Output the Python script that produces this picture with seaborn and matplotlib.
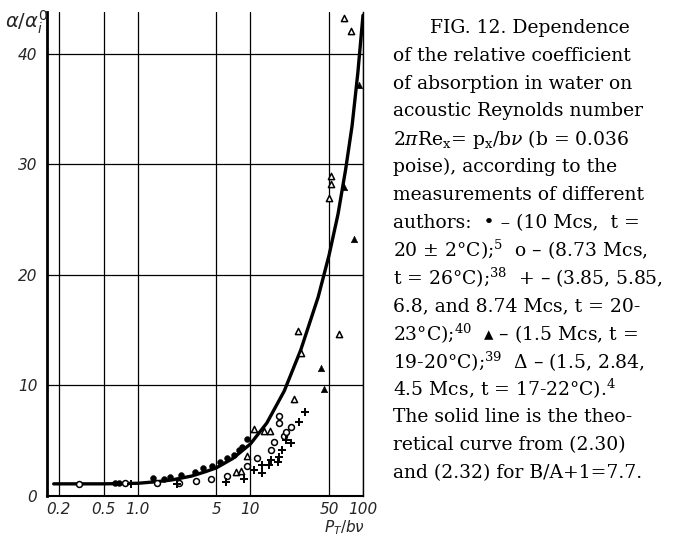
import numpy as np
import pandas as pd
import matplotlib
matplotlib.use("Agg")
import matplotlib.pyplot as plt
import seaborn as sns

# theoretical curve
curve_x = [0.18, 0.5, 1.0, 1.5, 2, 3, 4, 5, 7, 10, 14, 20, 28, 40, 50, 60, 70, 80, 90, 100]
curve_y = [1.1, 1.1, 1.15, 1.3, 1.45, 1.8, 2.2, 2.55, 3.4, 4.7, 6.6, 9.5, 13.2, 18.0, 21.8, 25.5, 29.5, 33.5, 38.3, 43.5]

# filled circles: 10 Mcs
fc_x = [0.63, 0.68, 1.38, 1.73, 1.92, 2.45, 3.2, 3.84, 4.6, 5.4, 6.25, 7.2, 8.0, 8.5, 9.3]
fc_y = [1.2, 1.2, 1.6, 1.5, 1.7, 1.9, 2.2, 2.5, 2.7, 3.1, 3.4, 3.7, 4.2, 4.4, 5.2]

# open circles: 8.73 Mcs
oc_x = [0.30, 0.78, 1.5, 2.35, 3.3, 4.5, 6.2, 9.4, 11.5, 15.3, 16.3, 18.0, 18.0, 20.0, 20.8, 23.0]
oc_y = [1.1, 1.2, 1.2, 1.2, 1.4, 1.5, 1.8, 2.7, 3.4, 4.2, 4.9, 6.6, 7.2, 5.4, 5.8, 6.2]

# plus: 3.85 - 8.74 Mcs
pl_x = [0.88, 2.25, 6.1, 8.8, 10.8, 12.7, 12.7, 14.8, 15.3, 17.7, 18.0, 19.2, 20.8, 23.0, 27.0, 30.5]
pl_y = [1.1, 1.1, 1.3, 1.5, 2.35, 2.1, 2.8, 2.8, 3.25, 3.1, 3.5, 4.2, 5.1, 4.8, 6.7, 7.6]

# filled triangles: 1.5 Mcs
ft_x = [42.5, 45, 68, 83, 92]
ft_y = [11.6, 9.7, 28.0, 23.3, 37.2]

# open triangles: 1.5, 2.84, 4.5 Mcs
ot_x = [7.4, 8.2, 9.4, 10.8, 13.3, 15.0, 24.5, 28, 26.5, 50, 52.5, 52, 61.5, 68, 78]
ot_y = [2.2, 2.3, 3.6, 6.1, 5.9, 5.9, 8.8, 12.9, 14.9, 27.0, 28.2, 29.0, 14.7, 43.3, 42.1]

x_ticks = [0.2, 0.5, 1, 5, 10, 50, 100]
x_labels = ["0.2", "0.5", "1.0", "5", "10", "50", "100"]
y_ticks = [0, 10, 20, 30, 40]

caption = [
    "FIG. 12. Dependence",
    "of the relative coefficient",
    "of absorption in water on",
    "acoustic Reynolds number",
    "2$\\pi$Re$_\\mathrm{x}$= p$_\\mathrm{x}$/b$\\nu$ (b = 0.036",
    "poise), according to the",
    "measurements of different",
    "authors:  \u2022 \u2013 (10 Mcs,  t =",
    "20 $\\pm$ 2°C);$^5$  o \u2013 (8.73 Mcs,",
    "t = 26°C);$^{38}$  + \u2013 (3.85, 5.85,",
    "6.8, and 8.74 Mcs, t = 20-",
    "23°C);$^{40}$  \u25b4 \u2013 (1.5 Mcs, t =",
    "19-20°C);$^{39}$  \u0394 \u2013 (1.5, 2.84,",
    "4.5 Mcs, t = 17-22°C).$^4$",
    "The solid line is the theo-",
    "retical curve from (2.30)",
    "and (2.32) for B/A+1=7.7.",
]

sns.set_style("white")
plt.rcParams["mathtext.fontset"] = "dejavuserif"

fig = plt.figure(figsize=(6.81, 5.42), dpi=100)
ax = fig.add_axes([47 / 681, 1 - 496 / 542, (363 - 47) / 681, (496 - 12) / 542])

sns.lineplot(x=curve_x, y=curve_y, ax=ax, color="black", lw=2.4, sort=False)

sns.scatterplot(x=fc_x, y=fc_y, ax=ax, marker="o", s=18, color="black", edgecolor="black", zorder=5)
sns.scatterplot(x=oc_x, y=oc_y, ax=ax, marker="o", s=18, facecolor="white", edgecolor="black", linewidth=1.1, zorder=5)
sns.scatterplot(x=pl_x, y=pl_y, ax=ax, marker="+", s=26, color="black", linewidth=1.4, zorder=5)
sns.scatterplot(x=ft_x, y=ft_y, ax=ax, marker="^", s=22, color="black", edgecolor="black", zorder=5)
sns.scatterplot(x=ot_x, y=ot_y, ax=ax, marker="^", s=20, facecolor="white", edgecolor="black", linewidth=1.1, zorder=5)

ax.set_xscale("log")
ax.set_xlim(0.157, 100)
ax.set_ylim(0, 43.8)
ax.set_xticks(x_ticks)
ax.set_xticklabels(x_labels)
ax.set_yticks(y_ticks)
ax.minorticks_off()
ax.grid(True, color="black", lw=0.9)
ax.tick_params(axis="x", length=0, pad=4)
ax.tick_params(axis="y", length=0, pad=7)
for lab in ax.get_xticklabels() + ax.get_yticklabels():
    lab.set_fontstyle("italic")
    lab.set_fontsize(11)
    lab.set_family("DejaVu Sans")

ax.spines["top"].set_visible(False)
ax.spines["left"].set_linewidth(2.0)
ax.spines["bottom"].set_linewidth(1.5)
ax.spines["right"].set_linewidth(1.0)
for s in ax.spines.values():
    s.set_color("black")
ax.set_xlabel("")
ax.set_ylabel("")

fig.text(5 / 681, 1 - 22 / 542, r"$\alpha/\alpha_i^0$", fontsize=14, va="center", ha="left",
         math_fontfamily="dejavusans")
fig.text(345 / 681, 1 - 528 / 542, r"$P_T/b\nu$", fontsize=11, va="center", ha="center",
         math_fontfamily="dejavusans")

for i, line in enumerate(caption):
    x0 = 430 if i == 0 else 393
    fig.text(x0 / 681, 1 - (28 + i * 27.8) / 542, line, fontsize=13.5, va="center", ha="left",
             family="DejaVu Serif", color="black")

fig.savefig("out.png", dpi=100)
